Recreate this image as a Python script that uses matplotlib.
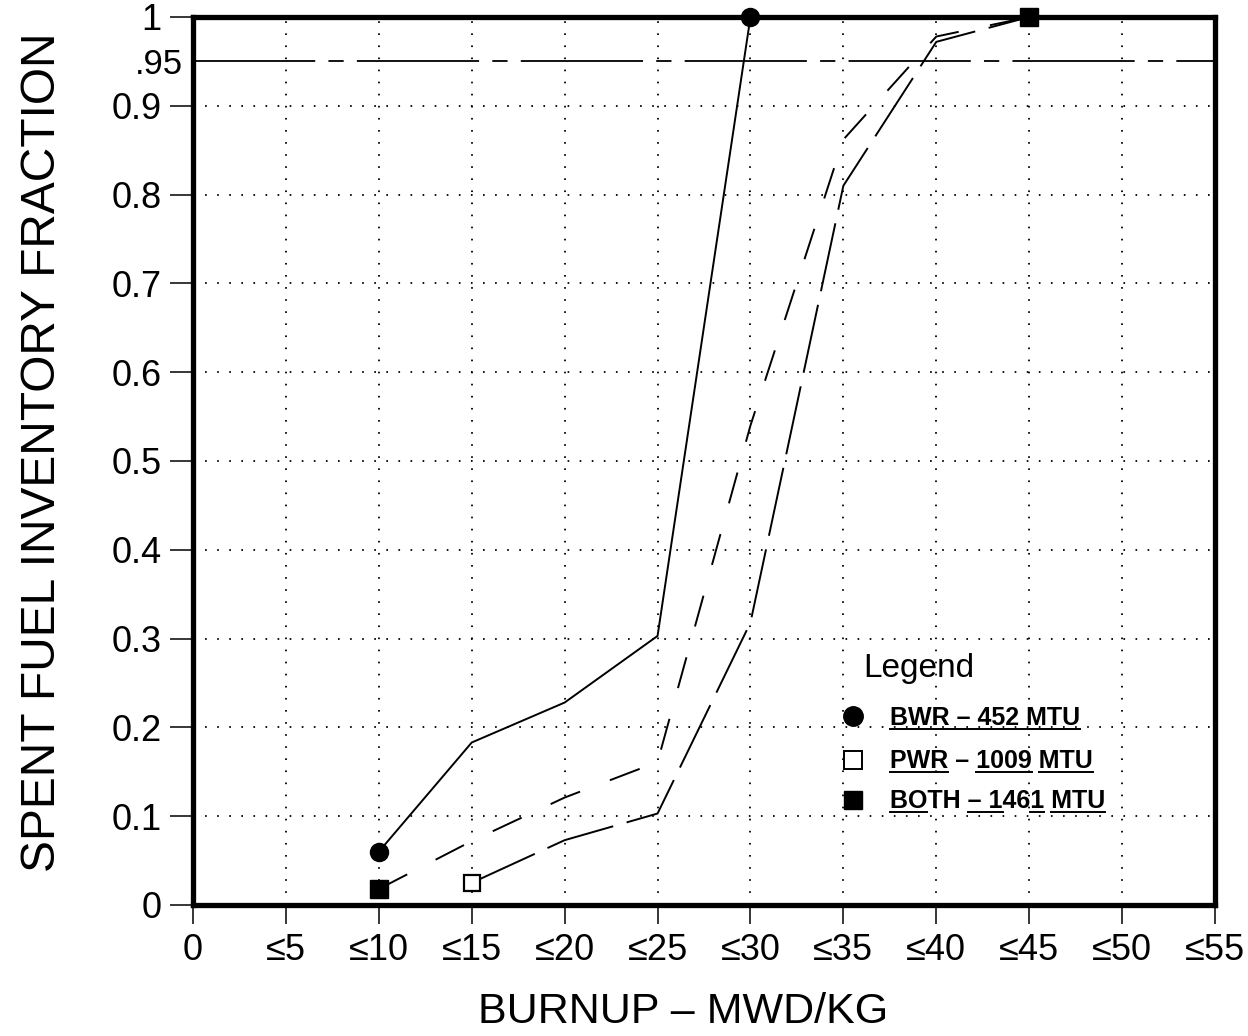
import matplotlib
matplotlib.use("Agg")
import matplotlib.pyplot as plt
from matplotlib.lines import Line2D

plt.rcParams["font.family"] = ["Liberation Sans", "DejaVu Sans"]
plt.rcParams["lines.scale_dashes"] = False

# ---------------- data ----------------
x_ticks = [0, 5, 10, 15, 20, 25, 30, 35, 40, 45, 50, 55]
x_tick_labels = ["0", "≤5", "≤10", "≤15", "≤20", "≤25", "≤30", "≤35",
                 "≤40", "≤45", "≤50", "≤55"]
y_ticks = [0.0, 0.1, 0.2, 0.3, 0.4, 0.5, 0.6, 0.7, 0.8, 0.9, 1.0]
y_tick_labels = ["0", "0.1", "0.2", "0.3", "0.4", "0.5", "0.6", "0.7",
                 "0.8", "0.9", "1"]
threshold = 0.95
threshold_label = ".95"

bwr_burnup = [10, 15, 20, 25, 30]
bwr_fraction = [0.060, 0.183, 0.228, 0.303, 1.0]

pwr_burnup = [15, 20, 25, 30, 35, 40, 45]
pwr_fraction = [0.025, 0.073, 0.103, 0.318, 0.810, 0.972, 1.0]

both_burnup = [10, 15, 20, 25, 30, 35, 40, 45]
both_fraction = [0.018, 0.072, 0.121, 0.161, 0.540, 0.862, 0.978, 1.0]

legend_title = "Legend"
legend_labels = ["BWR – 452 MTU", "PWR – 1009 MTU", "BOTH – 1461 MTU"]

x_label = "BURNUP – MWD/KG"
y_label = "SPENT FUEL INVENTORY FRACTION"

# ---------------- figure ----------------
W, H = 1248, 1036
fig = plt.figure(figsize=(W / 100, H / 100), dpi=100)
ax_l, ax_r, ax_t, ax_b = 193, 1215, 17, 905
ax = fig.add_axes([ax_l / W, 1 - ax_b / H, (ax_r - ax_l) / W, (ax_b - ax_t) / H])

ax.set_xlim(0, 55)
ax.set_ylim(0, 1)

ax.set_xticks(x_ticks, x_tick_labels, fontsize=26)
ax.set_yticks(y_ticks, y_tick_labels, fontsize=26)
ax.set_yticks([threshold], [threshold_label], minor=True)
ax.tick_params(axis="y", which="minor", length=0, pad=7, labelsize=25)
ax.tick_params(axis="x", which="major", length=14, width=1.1, pad=6,
               direction="out")
ax.tick_params(axis="y", which="major", length=16.5, width=1.1, pad=6,
               direction="out")
for sp in ax.spines.values():
    sp.set_linewidth(3.8)
    sp.set_zorder(6)

ax.grid(True, which="major", color="black", linestyle=(0, (1.2, 7.5)),
        linewidth=1.3, zorder=0)

# 0.95 reference line
ax.axhline(threshold, color="black", lw=1.3, dashes=(88, 9.5, 11, 9.5),
           zorder=2)

# series
ax.plot(bwr_burnup, bwr_fraction, color="black", lw=1.4, ls="-", zorder=3)
ax.plot(pwr_burnup, pwr_fraction, color="black", lw=1.4, dashes=(50, 10),
        zorder=3)
ax.plot(both_burnup, both_fraction, color="black", lw=1.4, dashes=(23, 23),
        zorder=3)

# markers at selected points
ax.plot([bwr_burnup[0], bwr_burnup[-1]], [bwr_fraction[0], bwr_fraction[-1]],
        ls="none", marker="o", ms=13, color="black", clip_on=False, zorder=8)
ax.plot([pwr_burnup[0]], [pwr_fraction[0]], ls="none", marker="s", ms=12,
        mfc="white", mec="black", mew=1.6, clip_on=False, zorder=8)
ax.plot([both_burnup[0], both_burnup[-1]], [both_fraction[0], both_fraction[-1]],
        ls="none", marker="s", ms=13, color="black", clip_on=False, zorder=8)

# labels
ax.set_ylabel(y_label, fontsize=34.5)
ax.yaxis.label.set_va("baseline")
ax.yaxis.set_label_coords(-0.135, 0.51)
ax.set_xlabel(x_label, fontsize=31)
ax.xaxis.label.set_va("baseline")
ax.xaxis.set_label_coords(0.4795, -0.1329)

# custom legend
ax.text(0.6556, 0.2568, legend_title, transform=ax.transAxes, fontsize=24,
        va="baseline", ha="left")
mk_x = 0.6458
txt_x = 0.682
mk_y = [0.2128, 0.1633, 0.1182]
tx_y = [0.2027, 0.1543, 0.1092]
ax.plot([mk_x], [mk_y[0]], transform=ax.transAxes, ls="none", marker="o",
        ms=14, color="black", clip_on=False, zorder=8)
ax.plot([mk_x], [mk_y[1]], transform=ax.transAxes, ls="none", marker="s",
        ms=12.5, mfc="white", mec="black", mew=1.4, clip_on=False, zorder=8)
ax.plot([mk_x], [mk_y[2]], transform=ax.transAxes, ls="none", marker="s",
        ms=12.5, color="black", clip_on=False, zorder=8)
texts = []
for lbl, yy in zip(legend_labels, tx_y):
    t = ax.text(txt_x, yy, lbl, transform=ax.transAxes, fontsize=18,
                fontweight="bold", va="baseline", ha="left")
    texts.append(t)

# underlines (as in the reference)
fig.canvas.draw()
renderer = fig.canvas.get_renderer()


def text_width(s, prop):
    w, h, d = renderer.get_text_width_height_descent(s, prop, ismath=False)
    return w


def add_underline(t, ranges):
    s = t.get_text()
    prop = t.get_fontproperties()
    bb = t.get_window_extent(renderer)
    x0 = bb.x0
    bar = text_width("|", prop)
    ybase = t.get_transform().transform(t.get_position())[1]
    y = ybase - 4
    for i, j in ranges:
        xa = x0 + (text_width(s[:i] + "|", prop) - bar if i > 0 else 0)
        xb = x0 + text_width(s[:j] + "|", prop) - bar
        p = fig.transFigure.inverted().transform([[xa, y], [xb, y]])
        fig.add_artist(Line2D(p[:, 0], p[:, 1], transform=fig.transFigure,
                              color="black", lw=1.4))


add_underline(texts[0], [(0, 13)])
add_underline(texts[1], [(0, 3), (6, 10), (11, 14)])
add_underline(texts[2], [(0, 2), (5, 8), (10, 11), (12, 15)])

fig.savefig("out.png", dpi=100)
